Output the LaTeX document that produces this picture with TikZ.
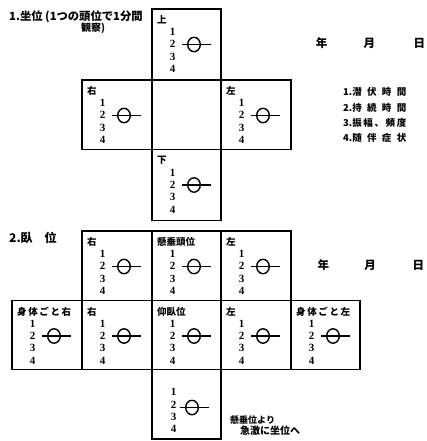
\documentclass[tikz,border=0pt]{standalone}
\usepackage{fontspec}
\setmainfont{Liberation Serif}
\newfontfamily\jp{Noto Sans CJK JP}
\usetikzlibrary{shapes.geometric}
\tikzset{
  box/.style={line width=1.6pt, line join=miter},
  lab/.style={anchor=west, inner sep=0pt, font={\jp\bfseries\fontsize{9.5}{9.5}\selectfont}},
  num/.style={inner sep=0pt, font={\bfseries\fontsize{11}{11}\selectfont}},
  ring/.style={ellipse, draw, line width=1.4pt, minimum width=12.6pt, minimum height=14.4pt, inner sep=0pt},
  bar/.style={line width=1.2pt},
  txt/.style={inner sep=0pt, font={\jp\bfseries\fontsize{11.5}{11.5}\selectfont}},
  small/.style={inner sep=0pt, anchor=west, font={\jp\bfseries\fontsize{9.5}{9.5}\selectfont}},
}
\newcommand\formcell[6]{%
  \draw[box] (#2,#3) rectangle (#4,#5);
  \coordinate (#1) at (#2,#3);
  \begin{scope}[shift={(#2,#3)}]
    \node[lab] (#1-l) at (5,11) {#6};
    \node[num] (#1-n1) at (20.5,23) {1};
    \node[num] (#1-n2) at (20.5,35) {2};
    \node[num] (#1-n3) at (20.5,47.5) {3};
    \node[num] (#1-n4) at (20.5,60) {4};
    \node[ring] (#1-c) at (42,35.5) {};
    \draw[bar] ([xshift=-5pt]#1-c.west) -- ([xshift=9.5pt]#1-c.east);
  \end{scope}
}
\begin{document}
\begin{tikzpicture}[x={(1pt,0)}, y={(0,-1pt)}]
\useasboundingbox[fill=white] (0,0) rectangle (426,441);

% ---------- Section 1 ----------
\node[txt, anchor=west, font={\jp\bfseries\fontsize{11.3}{11.3}\selectfont}] (t1) at (9,16.5) {1.坐位 (1つの頭位で1分間};
\node[txt, font={\jp\bfseries\fontsize{10}{10}\selectfont}] (t1b) at (93,28) {観察)};

\formcell{up}{152}{9}{221}{80}{上}
\formcell{right1}{82}{80}{152}{149.5}{右}
\draw[box] (152,80) rectangle (221,149.5);
\coordinate (mid1) at (152,80);
\formcell{left1}{221}{80}{291}{149.5}{左}
\formcell{down}{152}{149.5}{221}{220.5}{下}

\node[txt] (y1) at (321.7,43.3) {年};
\node[txt] (m1) at (369.3,43.3) {月};
\node[txt] (d1) at (419.3,43.3) {日};

\node[small] (l1) at (343,91.7) {1.\makebox[54pt][s]{潜\hfill 伏\hfill 時\hfill 間}};
\node[small] (l2) at (343,107.7) {2.\makebox[54pt][s]{持\hfill 続\hfill 時\hfill 間}};
\node[small] (l3) at (343,123.3) {3.\makebox[54pt][s]{振\hfill 幅\hfill 、\hfill 頻\hfill 度}};
\node[small] (l4) at (343,138.3) {4.\makebox[54pt][s]{随\hfill 伴\hfill 症\hfill 状}};

% ---------- Section 2 ----------
\node[txt, anchor=west, font={\jp\bfseries\fontsize{12}{12}\selectfont}] (t2) at (9,238.3) {2.臥\hspace{12pt}位};

\formcell{r2}{82}{231}{152}{300.5}{右}
\formcell{hang}{152}{231}{221}{300.5}{懸垂頭位}
\formcell{l2b}{221}{231}{291}{300.5}{左}

\formcell{bodyr}{12}{300.5}{82}{369.5}{\makebox[54pt][s]{身\hfill 体\hfill ご\hfill と\hfill 右}}
\formcell{r3}{82}{300.5}{152}{369.5}{右}
\formcell{supine}{152}{300.5}{221}{369.5}{仰臥位}
\formcell{l3b}{221}{300.5}{291}{369.5}{左}
\formcell{bodyl}{291}{300.5}{360}{369.5}{\makebox[54pt][s]{身\hfill 体\hfill ご\hfill と\hfill 左}}

\draw[box] (152,369.5) rectangle (221,439);
\coordinate (bot) at (152,369.5);
\begin{scope}[shift={(152,369.5)}]
  \node[num] (bot-n1) at (21.5,22.7) {1};
  \node[num] (bot-n2) at (21.5,35) {2};
  \node[num] (bot-n3) at (21.5,47.5) {3};
  \node[num] (bot-n4) at (21.5,59.5) {4};
  \node[ring] (bot-c) at (40,38) {};
  \draw[bar] ([xshift=-5pt]bot-c.west) -- ([xshift=9.5pt]bot-c.east);
\end{scope}

\node[txt] (y2) at (323.3,265) {年};
\node[txt] (m2) at (370,265) {月};
\node[txt] (d2) at (418.3,265) {日};

\node[small, font={\jp\bfseries\fontsize{9}{9}\selectfont}] (n1) at (230,420.5) {懸垂位より};
\node[small, font={\jp\bfseries\fontsize{10}{10}\selectfont}] (n2) at (240,431) {急激に坐位へ};
\end{tikzpicture}
\end{document}
